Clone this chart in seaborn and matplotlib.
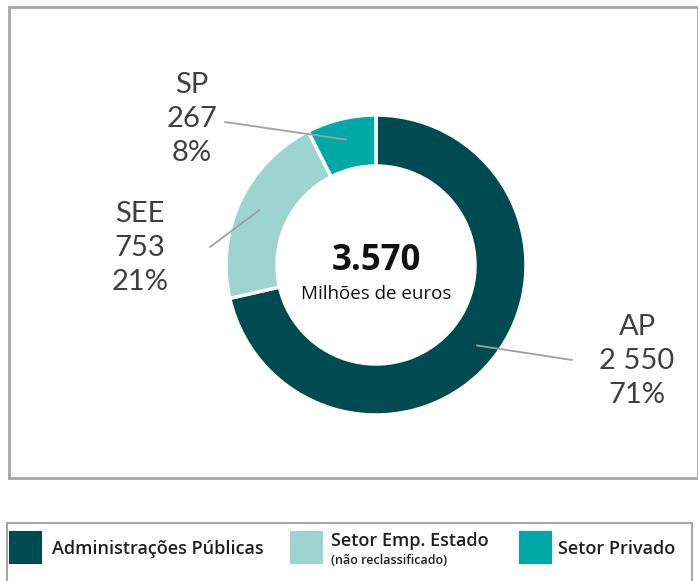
import matplotlib
matplotlib.use("Agg")
import matplotlib.pyplot as plt
from matplotlib.patches import Rectangle
import numpy as np
import seaborn as sns

sns.set_theme(style="white")
plt.rcParams["font.family"] = ["Lato", "DejaVu Sans"]

# Data
codes = ["AP", "SEE", "SP"]
values = [2550, 753, 267]
value_labels = ["2 550", "753", "267"]
pct_labels = ["71%", "21%", "8%"]
legend_names = ["Administrações Públicas", "Setor Emp. Estado", "Setor Privado"]
legend_notes = ["", "(não reclassificado)", ""]
total_label = "3.570"
unit_label = "Milhões de euros"
colors = ["#004a52", "#9ed4cf", "#00a9a6"]

W, H = 698, 581
fig = plt.figure(figsize=(W / 100, H / 100), dpi=100)
ax = fig.add_axes([0, 0, 1, 1])


def py(y):
    return H - y


cx, cy, R = 376, py(265), 150
wedges, _ = ax.pie(
    values, colors=colors, startangle=90, counterclock=False,
    center=(cx, cy), radius=R, frame=True,
    wedgeprops=dict(width=R * 0.34, edgecolor="white", linewidth=2.5),
)
ax.set_xlim(0, W)
ax.set_ylim(0, H)
ax.set_aspect("equal")
ax.axis("off")

# outer frames
ax.add_patch(Rectangle((9, py(478)), 689, 471, fill=False, ec="#a6a6a6", lw=2))
ax.add_patch(Rectangle((7, py(590)), 685, 67, fill=False, ec="#a6a6a6", lw=1.5))

# label text centres and leader-line starts (pixel coords)
label_pos = {"AP": (637, 361), "SEE": (140, 248), "SP": (192, 119)}
line_start = {"AP": (572, 360), "SEE": (210, 247), "SP": (225, 122)}

for w, code, vl, pl in zip(wedges, codes, value_labels, pct_labels):
    mid = np.deg2rad((w.theta1 + w.theta2) / 2)
    rr = R * 0.86
    tx, ty = cx + rr * np.cos(mid), cy + rr * np.sin(mid)
    sx, sy = line_start[code]
    ax.plot([sx, tx], [py(sy), ty], color="#a0a0a0", lw=1.3, zorder=5)
    lx, ly = label_pos[code]
    ax.text(lx, py(ly), f"{code}\n{vl}\n{pl}", ha="center", va="center",
            fontsize=21, color="#3f3f3f", linespacing=1.4)

of = ["Open Sans", "DejaVu Sans"]
ax.text(cx, py(261), total_label, ha="center", va="center",
        fontsize=25, fontweight="bold", color="#111111", family=of)
ax.text(cx, py(294), unit_label, ha="center", va="center",
        fontsize=13.5, color="#111111", family=of)

# legend
leg_x = [9, 290, 519]
text_x = [52, 331, 558]
for x0, tx0, c, name, note in zip(leg_x, text_x, colors, legend_names, legend_notes):
    ax.add_patch(Rectangle((x0, py(564)), 33, 33, color=c, lw=0))
    if note:
        ax.text(tx0, py(541), name, ha="left", va="center", fontsize=13,
                fontweight="semibold", color="#1f1f1f", family=of)
        ax.text(tx0, py(560), note, ha="left", va="center", fontsize=9,
                fontweight="semibold", color="#1f1f1f", family=of)
    else:
        ax.text(tx0, py(549), name, ha="left", va="center", fontsize=13,
                fontweight="semibold", color="#1f1f1f", family=of)

fig.savefig("out.png", dpi=100, facecolor="white")
